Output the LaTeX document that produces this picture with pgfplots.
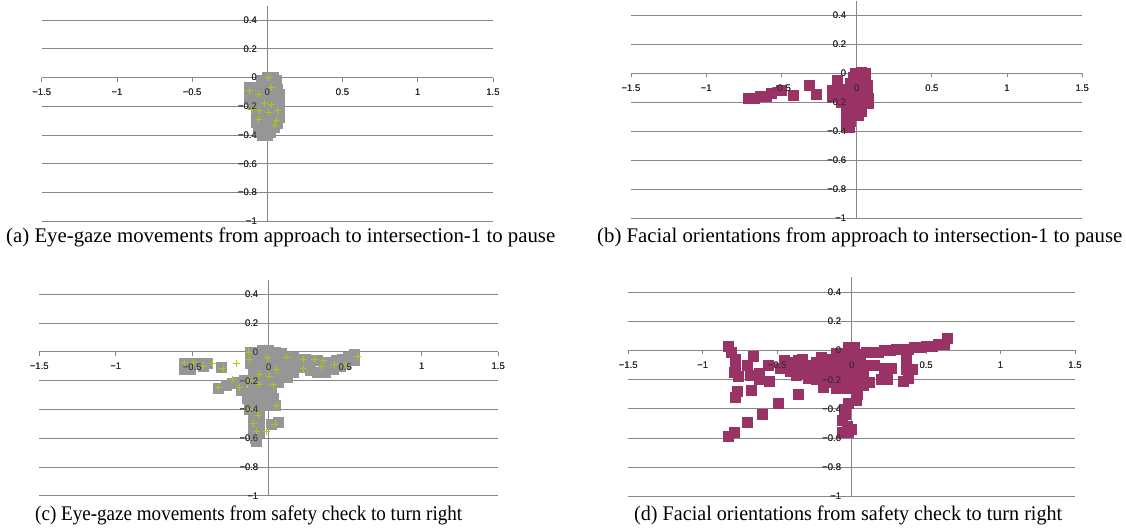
\documentclass[border=0pt]{standalone}
\usepackage{pgfplots}
\pgfplotsset{compat=1.18}
\usepackage{fontspec}
\setmainfont{Liberation Serif}
\newfontfamily\labelfont{Liberation Sans}
\usepackage{graphicx}

\definecolor{gridgray}{RGB}{134,134,134}
\definecolor{dotgray}{RGB}{150,150,150}
\definecolor{plusgreen}{RGB}{160,205,20}
\definecolor{plum}{RGB}{153,51,102}

\pgfplotsset{
  panel/.style={
    scale only axis,
    anchor=south west,
    xmin=-1.5, xmax=1.5, ymin=-1, ymax=0.5,
    axis lines=middle,
    axis line style={-, draw=gridgray, line width=1pt},
    xtick={-1.5,-1,-0.5,0,0.5,1,1.5},
    xticklabels={−1.5,−1,−0.5,0,0.5,1,1.5},
    ytick={-1,-0.8,-0.6,-0.4,-0.2,0,0.2,0.4},
    yticklabels={−1,−0.8,−0.6,−0.4,−0.2,0,0.2,0.4},
    hide obscured x ticks=false, hide obscured y ticks=false,
    ymajorgrids,
    major grid style={draw=gridgray, line width=1pt},
    tick align=outside,
    major tick length=4pt,
    xtick style={draw=gridgray, line width=0.8pt},
    ytick style={draw=none},
    ticklabel style={font=\labelfont\fontsize{9.5}{10}\selectfont, text=black!85},
    xticklabel style={yshift=-4pt},
    yticklabel style={xshift=-3pt},
    clip=false,
  },
  labelsonly/.style={
    panel,
    ymajorgrids=false,
    axis line style={draw=none},
    xtick style={draw=none},
  },
  graysq/.style={only marks, mark=square*, mark size=5pt,
    mark options={fill=dotgray, draw=dotgray, line width=0.8pt}},
  plumsq/.style={only marks, mark=square*, mark size=5pt,
    mark options={fill=plum, draw=plum, line width=0.8pt}},
  greenplus/.style={only marks, mark=+, mark size=3.5pt,
    mark options={draw=plusgreen, line width=0.8pt}},
}

\pgfplotstableread{
x y
0.00 0.00
0.04 0.00
0.06 -0.02
-0.04 -0.02
0.00 -0.03
0.04 -0.04
-0.12 -0.07
-0.08 -0.07
-0.04 -0.06
0.00 -0.07
0.04 -0.08
0.07 -0.08
-0.12 -0.11
-0.08 -0.11
-0.04 -0.11
0.00 -0.11
0.04 -0.12
0.08 -0.12
-0.12 -0.15
-0.08 -0.15
-0.04 -0.15
0.00 -0.15
0.04 -0.16
0.08 -0.16
-0.09 -0.19
-0.05 -0.19
-0.01 -0.19
0.03 -0.20
0.07 -0.20
0.08 -0.23
-0.07 -0.23
-0.03 -0.23
0.01 -0.24
0.05 -0.24
-0.07 -0.27
-0.03 -0.27
0.01 -0.28
0.05 -0.28
0.08 -0.28
-0.07 -0.31
-0.03 -0.31
0.01 -0.32
0.05 -0.32
0.07 -0.32
-0.06 -0.35
-0.02 -0.35
0.02 -0.35
0.05 -0.35
-0.05 -0.38
-0.01 -0.38
0.02 -0.38
-0.03 -0.40
0.00 -0.40
}\gazeA

\pgfplotstableread{
x y
0.01 0.00
-0.06 -0.12
-0.12 -0.09
-0.02 -0.18
0.03 -0.19
-0.05 -0.23
-0.06 -0.29
0.01 -0.24
0.07 -0.23
0.06 -0.30
-0.10 -0.22
0.03 -0.07
0.05 -0.33
}\plusA

\pgfplotstableread{
x y
-0.72 -0.17
-0.68 -0.17
-0.64 -0.16
-0.60 -0.16
-0.57 -0.14
-0.50 -0.12
-0.42 -0.15
-0.315 -0.085
-0.27 -0.145
-0.13 -0.05
-0.01 0.00
0.03 0.01
0.06 0.00
-0.02 -0.03
0.02 -0.03
0.06 -0.04
-0.04 -0.07
0.00 -0.07
0.04 -0.07
0.07 -0.08
-0.16 -0.12
-0.12 -0.11
-0.08 -0.11
-0.04 -0.11
0.00 -0.11
0.04 -0.11
0.07 -0.12
-0.16 -0.16
-0.12 -0.16
-0.08 -0.15
-0.04 -0.15
0.00 -0.15
0.04 -0.16
0.08 -0.17
-0.10 -0.20
-0.06 -0.20
-0.02 -0.20
0.02 -0.20
0.06 -0.20
0.08 -0.21
-0.07 -0.24
-0.03 -0.24
0.01 -0.24
0.03 -0.26
-0.07 -0.28
-0.03 -0.28
0.01 -0.29
-0.07 -0.32
-0.04 -0.33
-0.07 -0.36
-0.05 -0.37
}\faceB

\pgfplotstableread{
x y
-0.12 0.00
-0.08 0.00
-0.04 0.01
0.00 0.01
0.04 0.00
0.08 -0.01
-0.12 -0.04
-0.08 -0.04
-0.04 -0.04
0.00 -0.04
0.04 -0.04
0.08 -0.04
0.12 -0.04
-0.12 -0.08
-0.08 -0.08
-0.04 -0.08
0.00 -0.08
0.04 -0.08
0.08 -0.08
0.12 -0.08
0.16 -0.08
-0.10 -0.12
-0.06 -0.12
-0.02 -0.12
0.02 -0.12
0.06 -0.12
0.10 -0.12
0.14 -0.13
-0.10 -0.16
-0.06 -0.16
-0.02 -0.16
0.02 -0.16
0.06 -0.17
0.10 -0.17
-0.10 -0.20
-0.06 -0.20
-0.02 -0.20
0.02 -0.21
0.06 -0.21
-0.10 -0.24
-0.06 -0.24
-0.02 -0.24
0.02 -0.25
-0.14 -0.28
-0.10 -0.28
-0.06 -0.28
-0.02 -0.28
0.02 -0.29
0.03 -0.32
-0.14 -0.32
-0.10 -0.32
-0.06 -0.32
-0.02 -0.33
-0.13 -0.36
-0.11 -0.36
-0.07 -0.36
-0.03 -0.37
-0.13 -0.40
-0.11 -0.40
-0.07 -0.40
-0.10 -0.44
-0.06 -0.44
-0.10 -0.48
-0.06 -0.48
-0.10 -0.52
-0.07 -0.53
-0.10 -0.56
-0.06 -0.56
-0.09 -0.60
-0.08 -0.62
0.04 -0.37
0.02 -0.50
0.06 -0.49
-0.33 -0.25
-0.28 -0.23
-0.24 -0.22
-0.20 -0.21
-0.16 -0.20
-0.18 -0.27
0.16 -0.04
0.20 -0.05
0.24 -0.05
0.28 -0.06
0.32 -0.06
0.36 -0.07
0.40 -0.07
0.44 -0.06
0.48 -0.05
0.52 -0.04
0.56 -0.02
0.56 -0.06
0.50 -0.08
0.22 -0.11
0.27 -0.13
0.32 -0.14
0.37 -0.14
0.42 -0.12
0.47 -0.10
0.16 -0.14
0.12 -0.18
-0.55 -0.08
-0.55 -0.12
-0.51 -0.08
-0.51 -0.12
-0.46 -0.08
-0.43 -0.10
-0.40 -0.08
-0.31 -0.11
}\gazeC

\pgfplotstableread{
x y
-0.55 -0.074
-0.49 -0.074
-0.43 -0.097
-0.37 -0.078
-0.30 -0.113
-0.21 -0.078
-0.135 0.0
-0.124 -0.05
-0.01 -0.04
0.115 -0.04
0.225 -0.05
0.30 -0.055
0.355 -0.06
0.345 -0.10
0.225 -0.113
0.43 -0.085
0.50 -0.085
-0.33 -0.247
-0.19 -0.247
-0.06 -0.224
0.03 -0.224
0.05 -0.37
-0.124 -0.40
-0.07 -0.44
-0.10 -0.495
0.04 -0.50
-0.08 -0.555
-0.015 -0.555
-0.06 -0.155
-0.124 -0.20
0.007 -0.167
0.05 -0.12
-0.24 -0.19
0.58 -0.03
}\plusC

\pgfplotstableread{
x y
0.64 0.08
0.62 0.04
0.58 0.04
0.54 0.03
0.50 0.03
0.46 0.02
0.42 0.02
0.38 0.01
0.34 0.01
0.30 0.01
0.26 0.00
0.22 0.00
0.18 -0.01
0.14 -0.01
0.10 -0.01
0.37 -0.07
0.37 -0.13
0.41 -0.13
0.38 -0.19
0.35 -0.21
0.27 -0.12
0.22 -0.12
0.20 -0.20
0.24 -0.20
0.15 -0.10
0.10 -0.10
0.05 -0.10
0.12 -0.22
0.08 -0.24
-0.02 0.02
0.02 0.02
-0.10 -0.02
-0.06 -0.02
-0.02 -0.02
0.02 -0.02
0.06 -0.03
-0.14 -0.06
-0.10 -0.06
-0.06 -0.06
-0.02 -0.06
0.02 -0.06
0.06 -0.06
-0.16 -0.10
-0.12 -0.10
-0.08 -0.10
-0.04 -0.10
0.00 -0.10
0.04 -0.10
-0.16 -0.14
-0.12 -0.14
-0.08 -0.14
-0.04 -0.14
0.00 -0.14
0.04 -0.14
0.08 -0.14
-0.14 -0.18
-0.10 -0.18
-0.06 -0.18
-0.02 -0.18
0.02 -0.18
0.06 -0.18
-0.12 -0.22
-0.08 -0.22
-0.04 -0.22
0.00 -0.22
0.04 -0.22
-0.10 -0.26
-0.06 -0.26
-0.02 -0.26
0.02 -0.26
0.04 -0.30
0.03 -0.34
-0.19 -0.25
-0.05 -0.40
-0.04 -0.44
-0.06 -0.48
-0.03 -0.52
-0.02 -0.56
0.00 -0.54
-0.06 -0.56
-0.02 -0.36
-0.20 -0.05
-0.24 -0.08
-0.26 -0.12
-0.26 -0.17
-0.22 -0.13
-0.20 -0.18
-0.30 -0.10
-0.36 -0.07
-0.37 -0.12
-0.37 -0.17
-0.36 -0.30
-0.45 -0.07
-0.45 -0.12
-0.41 -0.14
-0.41 -0.08
-0.33 -0.06
-0.33 -0.16
-0.29 -0.14
-0.29 -0.19
-0.24 -0.20
-0.56 -0.10
-0.55 -0.21
-0.62 -0.16
-0.62 -0.20
-0.66 -0.04
-0.68 -0.17
-0.67 -0.27
-0.70 -0.10
-0.78 -0.06
-0.78 -0.11
-0.79 -0.15
-0.76 -0.18
-0.77 -0.28
-0.78 -0.32
-0.83 0.03
-0.81 -0.01
-0.49 -0.36
-0.60 -0.44
-0.70 -0.49
-0.79 -0.56
-0.83 -0.59
-0.48 -0.12
-0.42 -0.10
-0.32 -0.13
}\faceD

\begin{document}
\begin{tikzpicture}
\useasboundingbox (0pt,0pt) rectangle (1126pt,529pt);

\begin{axis}[panel, at={(41.7pt,307.7pt)}, width=451.3pt, height=215.6pt]
  \addplot[graysq] table {\gazeA};
  \addplot[greenplus] table {\plusA};
\end{axis}
\begin{axis}[labelsonly, at={(41.7pt,307.7pt)}, width=451.3pt, height=215.6pt]
\end{axis}

\begin{axis}[panel, at={(631pt,310.7pt)}, width=451.3pt, height=217.4pt]
  \addplot[plumsq] table {\faceB};
\end{axis}
\begin{axis}[labelsonly, at={(631pt,310.7pt)}, width=451.3pt, height=217.4pt]
\end{axis}

\begin{axis}[panel, at={(39.3pt,33pt)}, width=459pt, height=216.1pt]
  \addplot[graysq] table {\gazeC};
  \addplot[greenplus] table {\plusC};
\end{axis}
\begin{axis}[labelsonly, at={(39.3pt,33pt)}, width=459pt, height=216.1pt]
\end{axis}

\begin{axis}[panel, at={(628.3pt,32.3pt)}, width=446.7pt, height=219.3pt]
  \addplot[plumsq] table {\faceD};
\end{axis}
\begin{axis}[labelsonly, at={(628.3pt,32.3pt)}, width=446.7pt, height=219.3pt]
\end{axis}

\node[anchor=base west, inner sep=0pt] at (6pt,286pt)
  {\resizebox{549pt}{\height}{\fontsize{20.8}{24}\selectfont (a) Eye-gaze movements from approach to intersection-1 to pause}};
\node[anchor=base west, inner sep=0pt] at (597pt,286pt)
  {\resizebox{525pt}{\height}{\fontsize{20.8}{24}\selectfont (b) Facial orientations from approach to intersection-1 to pause}};
\node[anchor=base west, inner sep=0pt] at (35pt,8pt)
  {\resizebox{427pt}{\height}{\fontsize{20.8}{24}\selectfont (c) Eye-gaze movements from safety check to turn right}};
\node[anchor=base west, inner sep=0pt] at (634pt,8pt)
  {\resizebox{428pt}{\height}{\fontsize{20.8}{24}\selectfont (d) Facial orientations from safety check to turn right}};
\end{tikzpicture}
\end{document}
